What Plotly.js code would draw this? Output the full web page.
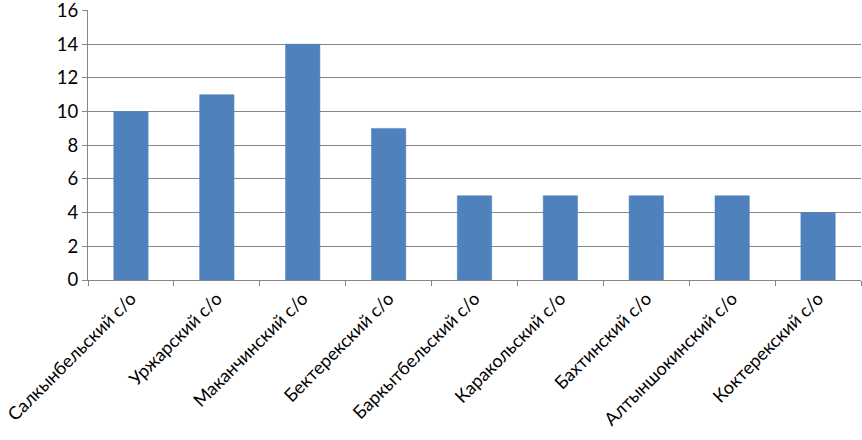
<!DOCTYPE html>
<html>
<head>
<meta charset="utf-8">
<script src="https://cdn.plot.ly/plotly-3.0.1.min.js"></script>
<style>html,body{margin:0;padding:0;background:#fff;}#chart{width:862px;height:440px;}</style>
</head>
<body>
<div id="chart"></div>
<script>
const categories = ["Салкынбельский с/о","Уржарский с/о","Маканчинский с/о","Бектерекский с/о","Баркытбельский с/о","Каракольский с/о","Бахтинский с/о","Алтыншокинский с/о","Коктерекский с/о"];
const values = [10, 11, 14, 9, 5, 5, 5, 5, 4];
const yTicks = [0, 2, 4, 6, 8, 10, 12, 14, 16];

const trace = {
  type: 'bar',
  x: categories,
  y: values,
  marker: {color: '#4F81BD', line: {color: '#4A7EBB', width: 0.5}},
  hoverinfo: 'none'
};
const layout = {
  width: 862, height: 440,
  margin: {l: 88, r: 1, t: 10, b: 160},
  paper_bgcolor: '#fff', plot_bgcolor: '#fff',
  bargap: 0.6,
  showlegend: false,
  font: {family: 'Lato, "Open Sans", sans-serif', size: 18, color: '#000'},
  xaxis: {
    type: 'category',
    tickangle: -45,
    showline: true, linecolor: '#868686', linewidth: 1,
    ticks: 'outside', tickson: 'boundaries', ticklen: 5, tickcolor: '#868686',
    showgrid: false, zeroline: false,
    tickfont: {size: 18}
  },
  yaxis: {
    range: [0, 16.03],
    tickvals: yTicks,
    showline: true, linecolor: '#868686', linewidth: 1,
    ticks: 'outside', ticklen: 5, tickcolor: '#868686',
    showgrid: true, gridcolor: '#868686', gridwidth: 1,
    zeroline: false,
    ticklabeloverflow: 'allow',
    tickfont: {size: 18.5}
  }
};
Plotly.newPlot('chart', [trace], layout, {staticPlot: true});
</script>
</body>
</html>
